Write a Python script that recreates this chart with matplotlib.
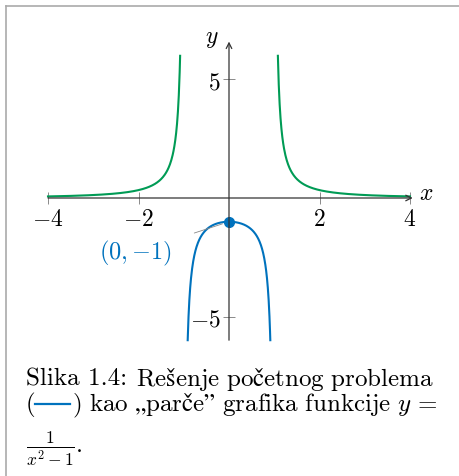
import numpy as np
import matplotlib.pyplot as plt
from matplotlib.lines import Line2D

plt.rcParams['mathtext.fontset'] = 'cm'
plt.rcParams['font.family'] = ['cmr10', 'DejaVu Serif']
plt.rcParams['axes.unicode_minus'] = False
plt.rcParams['axes.formatter.use_mathtext'] = True

W, H = 459, 477
green = '#009B55'
blue = '#0072BD'

# f(x) = 1/(x^2 - 1), branches clipped at |y| = 6
ymax = 6
xb = np.sqrt(1 + 1 / ymax)      # |x| where f = 6
xi = np.sqrt(1 - 1 / ymax)      # |x| where f = -6
x_left = np.linspace(-4, -xb, 300)
x_right = np.linspace(xb, 4, 300)
x_mid = np.linspace(-xi, xi, 300)
f = lambda x: 1 / (x**2 - 1)

xticks = [-4, -2, 2, 4]
yticks = [-5, 5]
ic_point = (0, -1)

caption1a = 'Slika 1.4:'
caption1b = 'Rešenje početnog problema'
caption2 = ') kao „parče\u201d grafika funkcije'


def rm(s):
    # upright text through mathtext so accented letters get a fallback glyph
    return r'\mathrm{' + s.replace(' ', r'\ ') + '}'


fig = plt.figure(figsize=(W / 100, H / 100), dpi=100)

# axes placed so that x=0 -> px 229, y=0 -> px 199
x0, sx = 229, 45.25
y0, sy = 199, 23.7
xlim = (-4.5, 4.6)
ylim = (-6.2, 7.0)
l = x0 + sx * xlim[0]
r = x0 + sx * xlim[1]
b = y0 - sy * ylim[0]
t = y0 - sy * ylim[1]
ax = fig.add_axes([l / W, 1 - b / H, (r - l) / W, (b - t) / H])
ax.set_xlim(*xlim)
ax.set_ylim(*ylim)
ax.patch.set_alpha(0)

for s in ['top', 'right']:
    ax.spines[s].set_visible(False)
ax.spines['left'].set_position('zero')
ax.spines['bottom'].set_position('zero')
ax.spines['left'].set_color('none')
ax.spines['bottom'].set_color('none')

# axis lines with arrow heads
axcol = '#333333'
ax.annotate('', xy=(4.06, 0), xytext=(-4, 0),
            arrowprops=dict(arrowstyle='->', color=axcol, lw=0.9, shrinkA=0, shrinkB=0))
ax.annotate('', xy=(0, 6.6), xytext=(0, -6.0),
            arrowprops=dict(arrowstyle='->', color=axcol, lw=0.9, shrinkA=0, shrinkB=0))

ax.set_xticks(xticks)
ax.set_xticklabels([f'${v}$' for v in xticks])
ax.set_yticks(yticks)
ax.set_yticklabels([f'${v}$' for v in yticks])
ax.tick_params(direction='inout', length=8, width=0.6, color='#777777',
               labelsize=17, pad=3)
ax.tick_params(axis='y', pad=2)

ax.text(4.35, 0.2, '$x$', fontsize=17, ha='center', va='center')
ax.text(-0.38, 6.75, '$y$', fontsize=17, ha='center', va='center')

ax.plot(x_left, f(x_left), color=green, lw=1.5)
ax.plot(x_right, f(x_right), color=green, lw=1.5)
ax.plot(x_mid, f(x_mid), color=blue, lw=1.5)
ax.plot(*ic_point, 'o', color=blue, ms=7)

ax.annotate('$(0,{-}1)$', xy=ic_point, xytext=(-2.07, -2.29), color=blue,
            fontsize=17.5, ha='center', va='center',
            arrowprops=dict(arrowstyle='-', color='#888888', lw=0.6,
                            shrinkA=15, shrinkB=5))

# border lines on top and left
fig.add_artist(Line2D([6 / W, 1], [1 - 7 / H, 1 - 7 / H], color='#aaaaaa', lw=1.2))
fig.add_artist(Line2D([6 / W, 6 / W], [0, 1 - 7 / H], color='#aaaaaa', lw=1.2))

# caption
cs = 18
renderer = fig.canvas.get_renderer()
t1 = fig.text(26 / W, 1 - 386 / H, caption1a, fontsize=cs, va='baseline')
x1 = t1.get_window_extent(renderer).x1
fig.text((x1 + 9) / W, 1 - 386 / H, '$' + rm(caption1b) + '$',
         fontsize=cs, va='baseline')
fig.text(26 / W, 1 - 411 / H, '(', fontsize=cs, va='baseline')
fig.add_artist(Line2D([35 / W, 70 / W], [1 - 405 / H, 1 - 405 / H], color=blue, lw=1.6))
fig.text(72 / W, 1 - 411 / H, '$' + rm(caption2) + r'\ y\,=$',
         fontsize=cs, va='baseline')
fig.text(26 / W, 1 - 452 / H, r'$\frac{1}{x^2-1}$.', fontsize=cs, va='baseline')

fig.savefig('out.png', dpi=100)
